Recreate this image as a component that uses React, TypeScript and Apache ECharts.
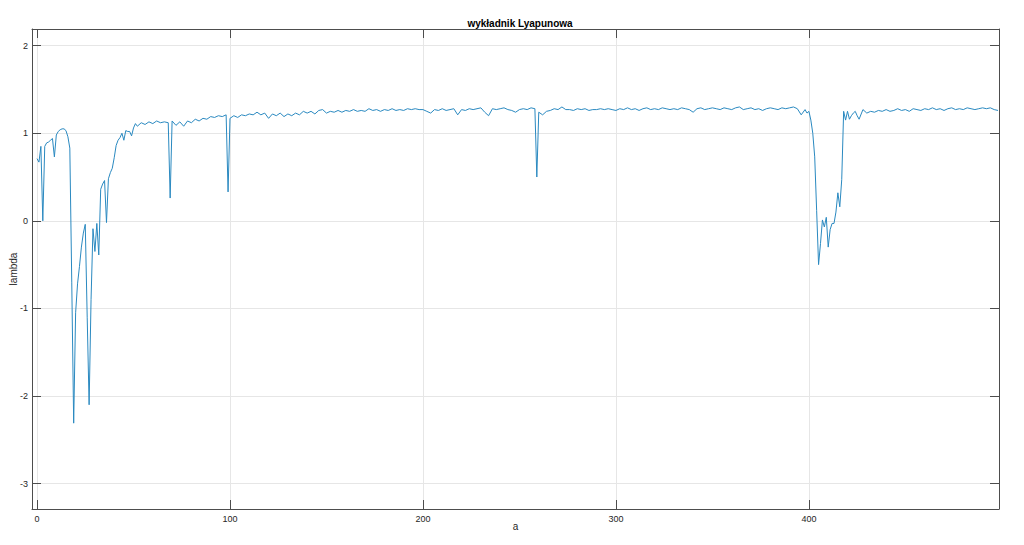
import React, { useEffect, useRef } from "react";
import * as echarts from "echarts";

// Lyapunov exponent readings, grouped by runs of the parameter a
// run: a = 0..52 step 1
const lambdaStart = [
  0.71, 0.67, 0.85, 0.0, 0.85, 0.89, 0.9, 0.92, 0.94, 0.73,
  0.98, 1.02, 1.04, 1.05, 1.05, 1.03, 0.96, 0.83, -0.7, -2.31,
  -1.05, -0.72, -0.52, -0.3, -0.14, -0.04, -1.1, -2.1, -0.9, -0.09,
  -0.35, -0.03, -0.39, 0.36, 0.42, 0.46, -0.02, 0.48, 0.55, 0.6,
  0.72, 0.86, 0.92, 0.95, 1.0, 0.92, 1.03, 1.02, 1.02, 0.97,
  1.06, 1.11, 1.08,
];
// run: a = 54..68 step 2
const lambdaRun1 = [1.12, 1.1, 1.13, 1.11, 1.14, 1.12, 1.13, 1.12];
// a = 69
const lambdaSpike1 = [0.26];
// run: a = 70..98 step 2
const lambdaRun2 = [
  1.14, 1.09, 1.13, 1.08, 1.14, 1.12, 1.16, 1.14, 1.17, 1.16, 1.19, 1.18, 1.2, 1.19, 1.21,
];
// a = 99
const lambdaSpike2 = [0.33];
// run: a = 100..258 step 2
const lambdaRun3 = [
  1.17, 1.2, 1.18, 1.21, 1.2, 1.22, 1.21, 1.24, 1.21, 1.23,
  1.17, 1.22, 1.2, 1.23, 1.19, 1.22, 1.2, 1.23, 1.21, 1.25,
  1.23, 1.25, 1.22, 1.26, 1.27, 1.23, 1.25, 1.24, 1.26, 1.24,
  1.26, 1.25, 1.27, 1.25, 1.26, 1.25, 1.28, 1.26, 1.27, 1.25,
  1.27, 1.26, 1.28, 1.26, 1.27, 1.26, 1.28, 1.27, 1.28, 1.27,
  1.27, 1.25, 1.23, 1.27, 1.26, 1.28, 1.26, 1.27, 1.28, 1.21,
  1.27, 1.26, 1.28, 1.27, 1.28, 1.29, 1.24, 1.2, 1.28, 1.27,
  1.28, 1.29, 1.27, 1.26, 1.24, 1.27, 1.28, 1.27, 1.29, 1.28,
];
// a = 259
const lambdaSpike3 = [0.5];
// run: a = 260..398 step 2
const lambdaRun4 = [
  1.24, 1.21, 1.25, 1.26, 1.28, 1.27, 1.3, 1.27, 1.27, 1.26,
  1.28, 1.27, 1.28, 1.26, 1.27, 1.27, 1.28, 1.27, 1.28, 1.27,
  1.26, 1.28, 1.27, 1.29, 1.27, 1.28, 1.26, 1.28, 1.29, 1.27,
  1.28, 1.27, 1.29, 1.28, 1.27, 1.28, 1.27, 1.29, 1.28, 1.27,
  1.24, 1.28, 1.29, 1.27, 1.28, 1.29, 1.28, 1.27, 1.29, 1.28,
  1.27, 1.29, 1.3, 1.27, 1.28, 1.29, 1.27, 1.28, 1.26, 1.28,
  1.29, 1.28, 1.27, 1.29, 1.28, 1.29, 1.3, 1.28, 1.21, 1.27,
];
// run: a = 399..425 step 1
const lambdaDip = [
  1.23, 1.25, 1.15, 1.0, 0.73, 0.12, -0.5, -0.26, 0.01, -0.07,
  0.04, -0.3, -0.1, -0.03, -0.03, 0.1, 0.32, 0.16, 0.47, 1.25,
  1.15, 1.25, 1.16, 1.2, 1.23, 1.25, 1.2,
];
// run: a = 426..498 step 2
const lambdaEnd = [
  1.16, 1.27, 1.23, 1.25, 1.24, 1.26, 1.25, 1.27, 1.25, 1.26,
  1.28, 1.26, 1.27, 1.25, 1.28, 1.27, 1.26, 1.28, 1.27, 1.29,
  1.27, 1.28, 1.26, 1.28, 1.29, 1.27, 1.28, 1.27, 1.29, 1.28,
  1.27, 1.28, 1.29, 1.28, 1.29, 1.27, 1.26,
];

// starting a and step of each run
const runStarts = [0, 54, 69, 70, 99, 100, 259, 260, 399, 426];
const runSteps = [1, 2, 1, 2, 1, 2, 1, 2, 1, 2];
const runValues = [
  lambdaStart, lambdaRun1, lambdaSpike1, lambdaRun2, lambdaSpike2,
  lambdaRun3, lambdaSpike3, lambdaRun4, lambdaDip, lambdaEnd,
];

const xMin = -2.6;
const xMax = 498.5;
const yMin = -3.29;
const yMax = 2.19;

const TITLE = "wykładnik Lyapunowa";
const X_NAME = "a";
const Y_NAME = "lambda";

function buildData(): [number, number][] {
  const out: [number, number][] = [];
  runValues.forEach((vals, r) => {
    vals.forEach((v, i) => {
      out.push([runStarts[r] + i * runSteps[r], v]);
    });
  });
  return out;
}

export default function App() {
  const ref = useRef<HTMLDivElement>(null);
  useEffect(() => {
    if (!ref.current) return;
    const chart = echarts.init(ref.current, undefined, { renderer: "svg" });
    const font = "'Liberation Sans', Arial, sans-serif";
    const axisColor = "#4d4d4d";
    const gridColor = "#e6e6e6";
    const intLabel = (v: number) =>
      Math.abs(v - Math.round(v)) < 1e-6 ? String(Math.round(v)) : "";
    const line = { show: true, onZero: false, lineStyle: { color: axisColor, width: 1 } };
    const tick = { show: true, inside: true, length: 9, lineStyle: { color: axisColor } };
    chart.setOption({
      animation: false,
      backgroundColor: "#ffffff",
      title: {
        text: TITLE,
        left: 515,
        top: 13,
        textAlign: "center",
        textStyle: { fontFamily: font, fontSize: 10, fontWeight: "bold", color: "#000" },
      },
      grid: {
        left: 32,
        right: 25,
        top: 29,
        bottom: 36,
        show: false,
        containLabel: false,
        outerBoundsMode: "none",
      },
      xAxis: [
        {
          type: "value",
          min: xMin,
          max: xMax,
          splitNumber: 5,
          position: "bottom",
          name: X_NAME,
          nameLocation: "middle",
          nameGap: 12,
          nameMoveOverlap: false,
          nameTextStyle: { fontFamily: font, fontSize: 10, color: "#262626" },
          axisLine: line,
          axisTick: tick,
          splitLine: { show: true, lineStyle: { color: gridColor, width: 1 } },
          axisLabel: {
            fontFamily: font,
            fontSize: 9,
            color: "#262626",
            margin: 5,
            showMinLabel: false,
            showMaxLabel: false,
            formatter: (v: number) => (v % 100 === 0 ? String(v) : ""),
          },
        },
        {
          type: "value",
          min: xMin,
          max: xMax,
          splitNumber: 5,
          position: "top",
          axisLine: line,
          axisTick: tick,
          splitLine: { show: false },
          axisLabel: { show: false },
        },
      ],
      yAxis: [
        {
          type: "value",
          min: yMin,
          max: yMax,
          splitNumber: 6,
          position: "left",
          name: Y_NAME,
          nameLocation: "middle",
          nameGap: 14,
          nameMoveOverlap: false,
          nameTextStyle: { fontFamily: font, fontSize: 10, color: "#262626" },
          axisLine: line,
          axisTick: tick,
          splitLine: { show: true, lineStyle: { color: gridColor, width: 1 } },
          axisLabel: {
            fontFamily: font,
            fontSize: 9,
            color: "#262626",
            margin: 4,
            showMinLabel: false,
            showMaxLabel: false,
            formatter: intLabel,
          },
        },
        {
          type: "value",
          min: yMin,
          max: yMax,
          splitNumber: 6,
          position: "right",
          axisLine: line,
          axisTick: tick,
          splitLine: { show: false },
          axisLabel: { show: false },
        },
      ],
      series: [
        {
          type: "line",
          data: buildData(),
          xAxisIndex: 0,
          yAxisIndex: 0,
          showSymbol: false,
          symbol: "none",
          lineStyle: { color: "#2a89c0", width: 1 },
          itemStyle: { color: "#2a89c0" },
        },
      ],
    });
    return () => chart.dispose();
  }, []);
  return (
    <div
      ref={ref}
      style={{ position: "fixed", left: 0, top: 0, width: 1024, height: 545 }}
    />
  );
}
